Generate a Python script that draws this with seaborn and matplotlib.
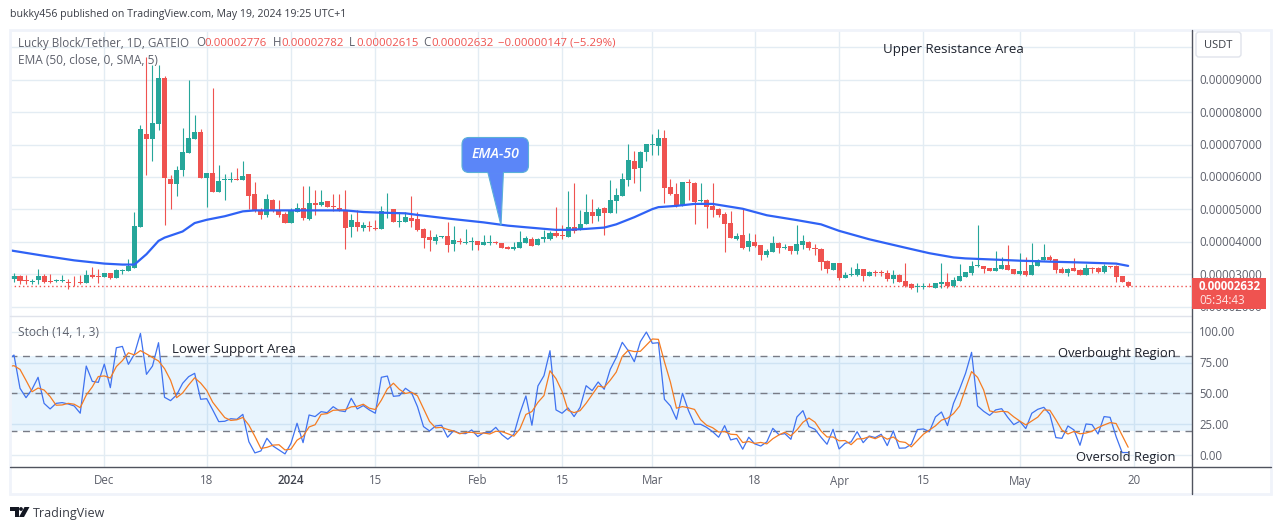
import matplotlib
matplotlib.use("Agg")
import matplotlib.pyplot as plt
import numpy as np
import seaborn as sns
from matplotlib.patches import FancyBboxPatch, Polygon, Rectangle, Circle

# ---------- data (prices in units of 0.00001 USDT) ----------
opens = [2.86,2.94,2.82,2.76,2.82,2.94,2.78,2.79,2.79,2.76,
 2.77,2.77,2.73,2.97,2.95,2.91,3.03,2.89,3.10,3.10,
 3.20,4.46,7.31,7.17,7.63,9.04,5.95,5.78,6.20,6.74,
 7.17,7.39,5.97,6.11,5.54,5.91,5.91,5.95,5.91,6.08,
 5.48,4.97,4.83,5.28,4.99,4.85,4.58,4.93,5.03,4.69,
 5.19,5.14,5.25,5.10,5.05,4.96,4.46,4.62,4.43,4.50,
 4.42,4.40,4.97,5.00,4.61,4.62,4.74,4.70,4.41,4.15,
 4.04,4.15,4.18,3.93,4.03,3.98,4.00,4.03,3.91,3.98,
 3.99,3.95,3.84,3.79,3.82,3.98,4.09,3.91,4.10,4.09,
 4.27,4.21,4.16,4.45,4.37,4.55,4.91,4.81,5.03,4.90,
 5.27,5.42,5.92,6.49,6.29,6.77,6.99,6.96,7.20,5.68,
 5.49,5.14,5.85,5.81,5.25,5.28,5.10,5.01,4.86,4.58,
 4.10,4.20,3.84,4.00,3.90,3.60,3.69,3.97,3.82,3.87,
 3.72,3.90,4.00,3.82,3.78,3.42,3.14,3.34,2.90,2.99,
 2.98,3.15,2.95,3.08,3.06,3.03,2.86,2.98,2.79,2.70,
 2.61,2.62,2.64,2.59,2.71,2.75,2.64,2.79,2.93,3.05,
 3.25,3.25,3.20,3.11,3.17,3.28,3.15,3.02,3.10,2.99,
 3.27,3.44,3.53,3.46,3.15,3.05,3.18,3.13,2.99,3.20,
 3.20,3.07,3.25,3.26,2.94,2.776]
highs = [3.05,2.97,2.97,2.87,3.15,3.02,3.00,2.84,2.97,2.84,
 2.95,2.97,3.12,3.21,3.17,3.03,3.05,3.16,3.16,3.48,
 4.92,7.59,9.71,9.44,9.44,9.10,6.05,6.34,7.50,9.00,
 7.90,7.47,6.13,8.75,6.38,6.10,6.16,6.29,6.48,6.10,
 5.86,5.05,5.46,5.33,5.28,4.92,5.05,5.20,5.71,5.71,
 5.59,5.59,5.25,5.48,5.46,5.59,4.87,4.99,4.61,4.63,
 4.68,5.09,5.52,5.00,4.92,4.91,5.41,4.91,4.44,4.37,
 4.24,4.19,4.61,4.50,4.13,4.40,4.14,4.04,4.21,4.20,
 4.04,3.95,3.87,3.99,4.34,4.18,4.15,4.13,4.37,4.32,
 5.06,4.52,5.57,5.80,4.98,5.49,5.31,5.08,5.06,5.91,
 5.65,6.11,7.01,6.80,6.81,7.01,7.32,7.48,7.45,5.93,
 5.81,5.84,5.93,5.84,5.81,5.31,5.81,5.05,4.92,4.96,
 4.26,5.03,4.26,4.24,3.90,3.77,4.18,4.01,3.92,3.87,
 4.52,4.21,4.02,3.93,3.80,3.44,3.34,3.36,3.08,3.22,
 3.34,3.17,3.10,3.13,3.13,3.13,3.13,3.00,3.34,2.72,
 2.72,2.72,2.74,2.74,3.34,3.03,2.91,3.32,3.07,3.40,
 4.52,3.27,3.20,3.72,3.54,3.90,3.17,3.66,3.54,3.95,
 3.46,3.93,3.60,3.46,3.22,3.18,3.50,3.16,3.32,3.22,
 3.22,3.32,3.27,3.29,2.94,2.782]
lows = [2.75,2.69,2.71,2.69,2.69,2.74,2.74,2.76,2.76,2.56,
 2.63,2.69,2.73,2.90,2.73,2.91,2.85,2.89,3.02,3.10,
 3.20,4.46,6.05,6.49,7.46,4.51,5.00,5.41,6.03,6.74,
 7.17,5.97,5.07,5.54,5.54,5.29,5.84,5.91,5.91,5.00,
 4.92,4.70,4.77,4.92,4.77,4.58,4.58,4.93,4.68,4.67,
 4.83,5.11,5.07,4.95,4.95,3.78,4.15,4.33,4.33,4.33,
 4.36,4.40,4.74,4.61,4.46,4.60,4.47,4.34,3.81,3.73,
 3.93,4.12,3.70,3.73,3.93,3.93,3.76,3.76,3.91,3.90,
 3.93,3.81,3.77,3.75,3.82,3.95,3.87,3.90,4.01,4.06,
 4.16,4.08,4.16,4.28,4.37,4.55,4.58,4.65,4.22,4.90,
 4.90,5.42,5.72,5.81,5.58,6.50,6.68,6.68,5.21,5.43,
 5.08,5.11,5.29,4.55,5.23,4.44,4.78,4.76,3.70,4.13,
 4.06,3.79,3.72,3.83,3.44,3.53,3.69,3.65,3.78,3.64,
 3.63,3.77,3.76,3.60,3.13,3.05,3.14,2.83,2.88,2.95,
 2.95,2.79,2.95,2.95,2.96,2.80,2.74,2.75,2.62,2.54,
 2.47,2.54,2.60,2.57,2.59,2.59,2.62,2.79,2.93,2.98,
 3.22,3.04,3.11,3.11,3.16,3.13,3.00,2.98,2.95,2.99,
 3.27,3.44,3.41,3.03,3.03,2.95,3.09,2.98,2.99,3.03,
 3.05,3.05,3.18,2.77,2.77,2.615]
closes = [2.94,2.79,2.79,2.80,2.94,2.76,2.76,2.82,2.82,2.74,
 2.75,2.72,2.97,2.93,2.93,3.03,2.89,3.12,3.13,3.25,
 4.48,7.49,7.16,7.67,9.04,5.97,5.78,6.22,6.78,7.19,
 7.39,5.97,6.11,5.54,5.88,5.93,5.95,5.91,6.04,5.41,
 4.96,4.83,5.31,4.94,4.83,4.58,4.97,5.05,4.74,5.19,
 5.14,5.22,5.07,5.07,4.96,4.43,4.66,4.46,4.53,4.45,
 4.40,4.96,4.99,4.61,4.63,4.76,4.65,4.37,4.12,4.07,
 4.15,4.17,3.90,4.06,4.01,4.00,4.02,3.91,4.00,4.00,
 3.95,3.82,3.79,3.84,3.99,4.11,3.88,4.08,4.15,4.26,
 4.19,4.19,4.45,4.34,4.54,4.91,4.81,5.01,4.90,5.29,
 5.44,5.94,6.52,6.24,6.77,7.01,7.01,7.20,5.67,5.47,
 5.11,5.84,5.82,5.23,5.28,5.08,4.98,4.83,4.55,4.13,
 4.19,3.81,4.02,3.87,3.60,3.72,3.95,3.82,3.85,3.73,
 3.93,4.03,3.80,3.77,3.39,3.15,3.34,2.88,2.98,3.01,
 3.15,2.95,3.07,3.03,3.04,2.86,2.98,2.77,2.64,2.57,
 2.64,2.64,2.62,2.73,2.76,2.64,2.83,2.95,3.07,3.25,
 3.28,3.16,3.11,3.20,3.28,3.14,3.02,3.09,2.97,3.29,
 3.44,3.53,3.43,3.14,3.05,3.15,3.11,2.99,3.18,3.17,
 3.07,3.25,3.23,2.93,2.77,2.632]

ema_days = [-1,0,5,10,15,18,20,22,24,25,28,30,32,35,38,40,46,55,58,61,65,67,72,78,82,85,
            90,92,95,98,100,103,106,107,110,113,116,118,121,125,130,134,137,142,148,
            152,156,158,162,167,172,178,183,185]
ema_vals = [3.75,3.72,3.57,3.43,3.33,3.30,3.30,3.62,4.03,4.13,4.32,4.58,4.68,4.79,4.94,4.97,4.97,
            4.97,4.92,4.90,4.88,4.83,4.72,4.60,4.50,4.45,4.37,4.37,4.40,4.44,4.54,4.76,5.01,
            5.07,5.11,5.17,5.17,5.11,5.02,4.82,4.67,4.54,4.34,4.08,3.82,3.65,3.52,3.49,3.46,
            3.42,3.39,3.36,3.33,3.26]

stoch_k = [77.1,81.1,54.2,46.6,53.4,63.1,42.0,37.5,42.0,42.6,41.5,39.9,34.0,72.2,59.8,59.0,73.8,
 54.7,87.0,88.1,73.6,81.9,98.6,65.5,72.2,91.1,46.9,44.2,48.8,58.2,63.6,66.3,45.3,45.8,36.7,27.2,
 27.5,29.6,29.1,33.1,11.0,1.9,3.5,13.7,7.5,4.3,1.1,9.7,25.9,10.2,32.6,31.3,35.3,34.5,39.3,36.1,
 35.3,46.1,37.5,40.2,36.7,34.0,63.1,64.1,47.7,48.2,54.2,50.7,39.3,23.2,19.7,23.7,24.3,14.6,19.9,
 17.8,17.5,20.5,15.1,18.3,18.3,22.6,16.7,12.9,17.0,34.0,48.0,24.3,56.1,64.4,84.6,36.7,34.0,38.3,
 31.3,38.8,56.3,52.3,59.3,53.4,69.5,79.0,91.4,84.6,75.7,91.9,99.7,90.6,91.1,45.3,39.9,29.1,50.1,
 36.1,25.1,25.1,22.6,19.1,14.6,24.0,12.4,13.7,4.9,14.6,9.2,7.5,10.8,21.8,16.7,17.5,12.9,31.0,36.1,
 23.2,21.0,14.6,8.9,21.0,5.1,9.7,10.8,19.1,10.2,15.6,14.3,17.0,7.8,19.7,5.7,5.9,8.9,20.8,21.3,
 19.1,31.0,35.0,24.0,42.0,53.4,66.3,83.3,39.9,35.6,32.3,36.7,37.7,30.7,24.8,27.5,21.6,34.0,37.2,
 38.8,33.1,14.3,13.7,23.7,20.5,8.1,25.3,24.8,17.2,31.3,30.7,15.1,2.2,2.2]
stoch_d = [71.7,72.5,69.5,60.6,51.4,54.4,52.8,47.5,40.5,40.7,42.0,41.3,38.5,48.7,55.3,63.7,64.2,
 62.5,71.8,76.6,82.9,81.2,84.7,82.0,79.1,76.3,70.1,60.7,46.6,50.4,56.9,62.7,58.4,52.5,42.9,36.6,
 30.5,28.2,28.7,30.6,24.4,15.3,5.5,6.4,8.2,8.5,4.3,5.0,12.2,15.3,22.9,24.7,33.1,33.7,36.4,36.6,
 36.9,39.2,39.6,41.3,38.1,37.0,44.6,53.7,58.3,53.3,50.0,51.0,48.1,37.7,27.4,22.2,22.6,20.9,19.6,
 17.4,18.4,18.6,17.7,18.0,17.2,19.4,19.2,17.4,15.5,21.3,33.0,35.4,42.8,48.3,68.4,62.0,51.8,36.3,
 34.5,36.1,42.1,49.1,56.0,55.0,60.7,67.3,80.0,85.0,83.9,84.1,89.1,94.1,93.8,75.7,59.1,38.1,39.4,
 38.4,37.1,28.8,24.3,22.3,18.8,19.2,17.0,16.7,10.3,11.1,9.6,10.4,9.2,13.4,16.4,18.7,15.7,20.5,26.7,
 30.1,26.8,19.6,14.8,14.8,11.7,11.9,8.6,13.2,13.4,15.0,13.4,15.7,13.0,14.8,11.1,10.4,6.8,11.9,17.0,
 20.4,23.8,28.4,30.0,33.7,39.8,53.9,67.7,63.0,52.9,35.9,34.8,35.6,35.1,31.1,27.7,24.6,27.7,30.9,
 36.7,36.4,28.7,20.4,17.2,19.3,17.4,18.0,19.5,22.4,24.5,26.4,25.7,16.0,6.5]

date_tick_days = [15,32,46,60,77,91,106,123,137,151,167,186]
date_tick_labels = ["Dec","18","2024","15","Feb","15","Mar","18","Apr","15","May","20"]
price_ticks = [2,3,4,5,6,7,8,9,10]
price_tick_labels = ["0.00003000","0.00004000","0.00005000","0.00006000","0.00007000","0.00008000","0.00009000"]
price_tick_values = [3,4,5,6,7,8,9]
stoch_ticks = [0,25,50,75,100]
last_price = 2.632

# ---------- style ----------
sns.set_theme(style="white")
FONT = ["Open Sans", "DejaVu Sans"]
plt.rcParams["font.family"] = FONT
GREEN, RED = "#26A69A", "#EF5350"
GRID = "#E3ECF3"
GREY = "#5D606B"
W, H = 1281, 530
fig = plt.figure(figsize=(W/100, H/100), dpi=100, facecolor="white")

def pane(x0, y0, x1, y1):
    return fig.add_axes([x0/W, 1-y1/H, (x1-x0)/W, (y1-y0)/H])

ax = pane(10, 30, 1192, 316)
ax2 = pane(10, 316, 1192, 467)
xlim = (-0.66, 195.6)
for a in (ax, ax2):
    a.set_xlim(*xlim)
    a.set_xticks(date_tick_days)
    a.set_xticklabels([])
    a.grid(axis="x", color=GRID, lw=1)
    a.set_axisbelow(True)
    a.tick_params(length=0, labelleft=False)
    for s in a.spines.values():
        s.set_visible(False)

# price pane
ax.set_ylim(1.715, 10.53)
ax.set_yticks(price_ticks)
ax.grid(axis="y", color=GRID, lw=1)
days = np.arange(len(opens))
o, h, l, c = map(np.array, (opens, highs, lows, closes))
cols = [GREEN if cc >= oo else RED for oo, cc in zip(o, c)]
ax.vlines(days, l, h, colors=cols, lw=0.8, zorder=3)
ax.bar(days, np.abs(c-o), bottom=np.minimum(o, c), width=0.84, color=cols, lw=0, zorder=4)
ax.axhline(last_price, color=RED, lw=1, ls=(0, (1, 2)), zorder=2)
sns.lineplot(x=ema_days, y=ema_vals, ax=ax, color="#2F62F5", linewidth=1.6, estimator=None,
             sort=False, zorder=5, legend=False)
ax.set_xlabel(""); ax.set_ylabel("")
ax.set_yticklabels([])

# stochastic pane
ax2.set_ylim(-9.5, 112.7)
ax2.set_yticks(stoch_ticks)
ax2.grid(axis="y", color=GRID, lw=1)
ax2.axhspan(20, 80, color="#2196F3", alpha=0.1, lw=0, zorder=1)
for lv in (80, 50, 20):
    ax2.axhline(lv, color="#787B86", lw=1, ls=(0, (5, 4)), zorder=2)
sd = np.arange(-1, len(stoch_k)-1)
sns.lineplot(x=sd, y=stoch_k, ax=ax2, color="#3F72F0", linewidth=0.9, estimator=None, sort=False,
             zorder=4, legend=False)
sns.lineplot(x=sd, y=stoch_d, ax=ax2, color="#F57C22", linewidth=0.9, estimator=None, sort=False,
             zorder=5, legend=False)
ax2.set_xlabel(""); ax2.set_ylabel("")
ax2.set_yticklabels([])

# overlay in pixel space: frame, axis labels, annotations
ov = fig.add_axes([0, 0, 1, 1], facecolor="none", zorder=10)
ov.set_xlim(0, W); ov.set_ylim(H, 0); ov.axis("off")
ov.add_patch(Rectangle((10, 30), 1261, 464, fill=False, ec="#F0F3FA", lw=2))
ov.plot([10, 1192], [316, 316], color="#E0E3EB", lw=1)
ov.plot([10, 1271], [467, 467], color="#50535E", lw=1)
ov.plot([1192, 1192], [30, 494], color="#50535E", lw=1)

def txt(x, y, s, color=GREY, size=8.3, **k):
    k.setdefault("va", "center"); k.setdefault("ha", "left")
    return ov.text(x, y+1, s, color=color, fontsize=size, **k)

# header
txt(10, 13.5, "bukky456 published on TradingView.com, May 19, 2024 19:25 UTC+1", color="#3A3D46", size=7.6)
txt(18, 42, "Lucky Block/Tether, 1D, GATEIO", size=8.4)
for x, lab, val in [(196, "O", "0.00002776"), (273, "H", "0.00002782"), (349, "L", "0.00002615"), (423, "C", "0.00002632")]:
    txt(x, 42, lab, size=8.3)
    txt(x + (8 if lab != "L" else 7), 42, val, color=RED, size=8.2)
txt(498, 42, "\u22120.00000147 (\u22125.29%)", color=RED, size=8.2)
txt(18, 59, "EMA (50, close, 0, SMA, 5)", size=8.6)
txt(18, 332, "Stoch (14, 1, 3)", size=8.6)

# free annotations
ink = "#1E222D"
txt(883, 49, "Upper Resistance Area", color=ink, size=9.5)
txt(172, 348.5, "Lower Support Area", color=ink, size=9.5)
txt(1058, 352, "Overbought Region", color=ink, size=9.4)
txt(1076, 457, "Oversold Region", color=ink, size=9.4)

# EMA-50 callout
ov.add_patch(Polygon([(487.5, 171), (503.5, 171), (501, 225.5)], closed=True, fc="#5B86F8", ec="#5BB0D8", lw=0.8, zorder=11))
ov.add_patch(FancyBboxPatch((467, 142.5), 56.5, 25, boxstyle="round,pad=5,rounding_size=7",
                            fc="#5B86F8", ec="#5BB0D8", lw=0.8, zorder=11))
ov.add_patch(Rectangle((488.3, 165), 14.5, 8, fc="#5B86F8", ec="none", zorder=12))
txt(495.5, 153.5, "EMA-50", color="white", size=10.2, ha="center", style="italic", weight="semibold", zorder=13)

# axis tick labels
for v, s in zip(price_tick_values, price_tick_labels):
    txt(1199, 274.3-(v-3)*32.45, s)
txt(1199, 306.7, "0.00002000", zorder=1)
for v in stoch_ticks:
    txt(1199, 455.3-v*1.236, f"{v:.2f}")
x_px = lambda d: 14 + 6.023*d
for d, s in zip(date_tick_days, date_tick_labels):
    bold = s == "2024"
    txt(x_px(d), 480, s, ha="center", color="#3E414B" if bold else GREY, weight="semibold" if bold else "normal")

# last-price tag and currency box
ov.add_patch(Rectangle((1192, 278), 74, 31, fc=RED, ec="none", zorder=11))
txt(1199, 286, "0.00002632", color="white", weight="bold", zorder=12)
txt(1199, 300, "05:34:43", color="#FFE4E3", zorder=12)
ov.add_patch(FancyBboxPatch((1198, 34), 41, 21, boxstyle="round,pad=2,rounding_size=3", fc="white", ec="#E0E3EB", lw=1, zorder=11))
txt(1204, 44, "USDT", color="#3A3D46", size=8, zorder=12)

# logo + footer
LOGO = "#131722"
ov.add_patch(Polygon([(10, 507), (18.5, 507), (18.5, 517), (14.5, 517), (14.5, 511), (10, 511)], fc=LOGO, ec="none"))
ov.add_patch(Circle((21, 509), 1.9, fc=LOGO, ec="none"))
ov.add_patch(Polygon([(24.5, 507), (29.5, 507), (24, 517), (19, 517)], fc=LOGO, ec="none"))
txt(33, 512, "TradingView", color="#3A3D46", size=9.0)

fig.savefig("out.png", dpi=100, facecolor="white")
